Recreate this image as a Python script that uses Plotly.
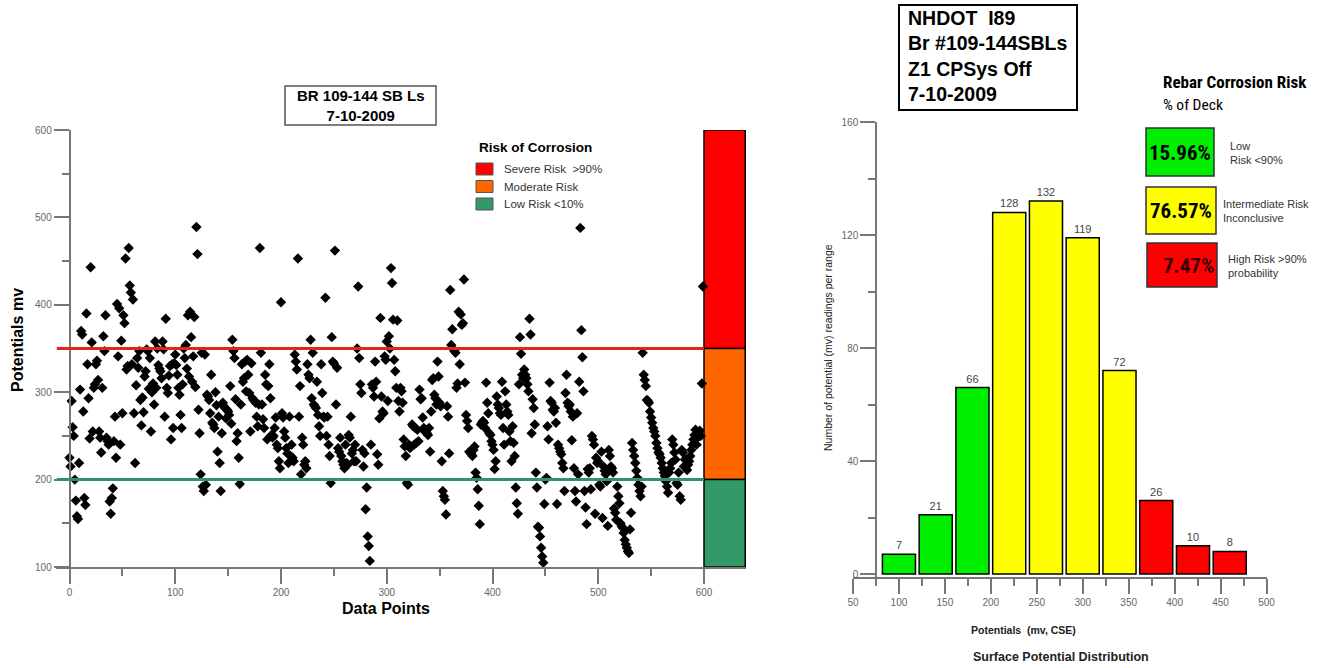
import plotly.graph_objects as go

W, H = 1325, 668

# half-cell potentials (mv) in data-point order
potentials = [
    225, 215, 290, 260, 250, 200, 176, 158, 155, 219,
    303, 370, 366, 278, 179, 171, 390, 332, 293, 247,
    443, 357, 255, 305, 309, 332, 336, 314, 255, 248,
    231, 305, 364, 347, 388, 248, 244, 240, 175, 161,
    179, 190, 244, 272, 225, 401, 341, 396, 240, 359,
    276, 388, 379, 453, 326, 330, 465, 422, 414, 332,
    406, 276, 219, 308, 339, 328, 347, 291, 262, 294,
    277, 318, 324, 349, 347, 304, 339, 255, 300, 310,
    286, 358, 305, 350, 331, 327, 324, 316, 358, 349,
    272, 384, 305, 299, 319, 330, 246, 332, 259, 333,
    343, 331, 320, 305, 297, 274, 259, 309, 350, 339,
    354, 327, 388, 318, 392, 363, 312, 341, 386, 306,
    489, 458, 280, 253, 206, 345, 192, 187, 343, 194,
    297, 295, 291, 276, 320, 265, 263, 259, 300, 285,
    232, 272, 219, 187, 253, 288, 284, 282, 270, 280,
    278, 274, 307, 264, 360, 347, 339, 292, 244, 253,
    225, 195, 286, 332, 312, 316, 335, 301, 337, 320,
    299, 255, 333, 293, 291, 290, 288, 272, 261, 286,
    465, 345, 286, 269, 259, 320, 309, 246, 307, 332,
    293, 251, 248, 250, 259, 271, 240, 236, 221, 213,
    403, 276, 271, 255, 248, 236, 230, 219, 272, 227,
    240, 225, 221, 343, 335, 326, 453, 272, 307, 206,
    248, 240, 217, 221, 213, 332, 320, 316, 360, 293,
    345, 286, 284, 282, 312, 274, 261, 250, 332, 299,
    272, 271, 408, 250, 272, 240, 227, 196, 363, 335,
    333, 462, 286, 328, 236, 232, 248, 227, 221, 217,
    213, 240, 219, 217, 251, 248, 272, 230, 234, 221,
    240, 221, 350, 421, 339, 309, 299, 234, 215, 230,
    166, 191, 135, 124, 107, 240, 309, 305, 295, 335,
    312, 229, 217, 270, 385, 295, 278, 276, 341, 337,
    358, 290, 364, 350, 442, 425, 383, 337, 324, 305,
    382, 290, 278, 305, 301, 288, 246, 238, 227, 196,
    194, 240, 236, 238, 263, 261, 240, 259, 242, 257,
    244, 303, 292, 293, 271, 259, 255, 257, 253, 251,
    259, 232, 278, 314, 316, 297, 293, 286, 335, 318,
    288, 284, 221, 187, 181, 177, 160, 284, 272, 230,
    417, 354, 372, 349, 347, 345, 305, 310, 392, 332,
    389, 377, 379, 429, 311, 274, 267, 259, 232, 231,
    229, 227, 234, 238, 208, 202, 189, 170, 149, 263,
    265, 267, 265, 259, 311, 288, 276, 253, 251, 244,
    240, 234, 212, 221, 295, 286, 282, 276, 274, 312,
    259, 240, 301, 286, 278, 274, 255, 244, 221, 261,
    242, 227, 191, 173, 161, 309, 363, 344, 320, 316,
    326, 320, 316, 309, 301, 384, 366, 253, 292, 282,
    263, 208, 191, 146, 145, 135, 122, 112, 105, 172,
    200, 202, 261, 246, 311, 290, 288, 280, 278, 282,
    265, 172, 240, 236, 232, 229, 219, 213, 187, 299,
    320, 288, 284, 286, 278, 245, 272, 213, 187, 175,
    276, 206, 312, 488, 371, 340, 301, 187, 168, 149,
    212, 208, 213, 189, 250, 246, 240, 161, 225, 219,
    221, 194, 192, 232, 156, 215, 210, 206, 198, 147,
    234, 227, 215, 213, 208, 167, 162, 154, 192, 181,
    173, 150, 147, 145, 139, 131, 126, 122, 118, 116,
    143, 162, 242, 234, 227, 219, 210, 202, 194, 187,
    181, 192, 345, 320, 314, 307, 291, 290, 288, 278,
    271, 265, 259, 255, 250, 242, 236, 231, 229, 225,
    219, 213, 208, 204, 198, 192, 185, 208, 213, 219,
    246, 240, 231, 223, 196, 194, 208, 181, 177, 234,
    231, 215, 223, 217, 211, 217, 221, 227, 234, 240,
    246, 251, 257, 240, 248, 252, 256, 250, 310, 421,
]

SEVERE_MV = 350   # red threshold line
LOW_MV = 200      # green threshold line

# risk bands drawn at the right edge of the scatter (mv)
band_lo = [350, 200, 100]
band_hi = [600, 350, 200]
band_names = ["Severe Risk  >90%", "Moderate Risk", "Low Risk <10%"]

# histogram of potentials
bin_centers = [100, 140, 180, 220, 260, 300, 340, 380, 420, 460]
bin_counts = [7, 21, 66, 128, 132, 119, 72, 26, 10, 8]
bin_risk = ["low", "low", "low", "mid", "mid", "mid", "mid", "high", "high", "high"]

deck_pct = ["15.96%", "76.57%", "7.47%"]
deck_desc = [["Low", "Risk <90%"], ["Intermediate Risk", "Inconclusive"],
             ["High Risk >90%", "probability"]]

RED, ORANGE, DGREEN = "#ff0000", "#ff6600", "#339966"
RISK_COLOR = {"low": "#00ee00", "mid": "#ffff00", "high": "#ff0000"}
GRAY = "#666666"
FONT = "Liberation Sans, Arial, sans-serif"
NARROW = "Liberation Sans Narrow, Arial Narrow, Roboto Condensed, sans-serif"


def px(x):
    return x / W


def py(y):
    return 1 - y / H


fig = go.Figure()

# ---- left: potentials by data point
fig.add_trace(go.Scatter(
    x=list(range(len(potentials))), y=potentials, mode="markers",
    marker=dict(symbol="diamond", size=8, color="black"),
    xaxis="x", yaxis="y", showlegend=False, hoverinfo="skip"))

fig.add_trace(go.Bar(
    x=[619.5] * 3, base=band_lo, y=[h - l for h, l in zip(band_hi, band_lo)],
    width=39, marker=dict(color=[RED, ORANGE, DGREEN],
                          line=dict(color="black", width=1.5)),
    xaxis="x", yaxis="y", showlegend=False, hoverinfo="skip"))

# ---- right: histogram
fig.add_trace(go.Bar(
    x=bin_centers, y=bin_counts, width=36,
    marker=dict(color=[RISK_COLOR[r] for r in bin_risk],
                line=dict(color="black", width=1.5)),
    text=[str(c) for c in bin_counts], textposition="outside",
    textfont=dict(size=11, color="#444", family=FONT), cliponaxis=False,
    xaxis="x2", yaxis="y2", showlegend=False, hoverinfo="skip"))

tick_common = dict(showgrid=False, zeroline=False, showline=True, linecolor="#777",
                   linewidth=1.5, ticks="outside", tickcolor="#777", tickwidth=1.5,
                   ticklen=15, automargin=False,
                   tickfont=dict(size=10, color=GRAY, family=FONT))

fig.update_layout(
    width=W, height=H, margin=dict(l=0, r=0, t=0, b=0),
    paper_bgcolor="white", plot_bgcolor="white", barmode="overlay",
    xaxis=dict(domain=[px(55.75), px(746.3)], range=[-13, 640], anchor="y",
               tick0=0, dtick=100,
               minor=dict(dtick=50, ticklen=7, ticks="outside", tickcolor="#777"),
               **tick_common),
    yaxis=dict(domain=[py(567), py(130)], range=[100, 600], anchor="free",
               position=px(69.5), dtick=100,
               minor=dict(dtick=50, ticklen=7, ticks="outside", tickcolor="#777"),
               **tick_common),
    xaxis2=dict(domain=[px(853), px(1266.5)], range=[50, 500], anchor="y2",
                dtick=50,
                minor=dict(dtick=25, ticklen=7, ticks="outside", tickcolor="#777"),
                **tick_common),
    yaxis2=dict(domain=[py(577), py(122)], range=[-1.06, 160], anchor="free",
                position=px(876), tickvals=[0, 40, 80, 120, 160],
                minor=dict(tickvals=[20, 60, 100, 140], ticklen=7, ticks="outside",
                           tickcolor="#777"),
                **tick_common),
)

shapes = []
ann = []

for val, col in [(SEVERE_MV, "#e3231e"), (LOW_MV, "#2f9463")]:
    shapes.append(dict(type="line", xref="x", yref="y", x0=-12, x1=600, y0=val, y1=val,
                       line=dict(color=col, width=3)))


def text(x, y, s, size, xanchor="center", yanchor="middle", color="black",
         family=FONT, angle=0, align="center"):
    ann.append(dict(xref="paper", yref="paper", x=px(x), y=py(y), text=s,
                    showarrow=False, xanchor=xanchor, yanchor=yanchor, align=align,
                    textangle=angle, font=dict(size=size, color=color, family=family)))


def box(x0, y0, x1, y1, fill="white", line="black", lw=1.5):
    shapes.append(dict(type="rect", xref="paper", yref="paper", x0=px(x0), x1=px(x1),
                       y0=py(y1), y1=py(y0), fillcolor=fill,
                       line=dict(color=line, width=lw)))


# left title box
box(285, 86, 436, 125, line="#555")
text(360.5, 105.5, "<b>BR 109-144 SB Ls<br>7-10-2009</b>", 15)

# left legend
text(477, 148, "<b>Risk of Corrosion</b>", 13.5, xanchor="left")
for i, (name, col) in enumerate(zip(band_names, [RED, ORANGE, DGREEN])):
    yc = 169 + i * 17.5
    box(476, yc - 6, 493, yc + 6, fill=col, line="#555", lw=1)
    text(502, yc, name, 11.5, xanchor="left", color="#333")

# left axis titles
text(17, 340, "<b>Potentials mv</b>", 16, angle=-90)
text(386, 608, "<b>Data Points</b>", 16)

# right title box
box(899, 5, 1077, 110, lw=2)
text(906, 56, "<b>NHDOT  I89<br>Br #109-144SBLs<br>Z1 CPSys Off<br>7-10-2009</b>",
     19.5, xanchor="left", align="left")

# right legend
text(1161, 82, "<b>Rebar Corrosion Risk</b>", 17, xanchor="left", family=NARROW)
text(1161, 105, "% of Deck", 15.5, xanchor="left", family=NARROW)
pct_boxes = [(1146, 128, 1214, 176), (1146, 187, 1216, 234), (1147, 243, 1217, 287)]
desc_x = [1228, 1221, 1226]
for i, risk in enumerate(["low", "mid", "high"]):
    x0, y0, x1, y1 = pct_boxes[i]
    box(x0, y0, x1, y1, fill=RISK_COLOR[risk], line="#333")
    text((x0 + x1) / 2 + (6 if risk == "high" else 0), (y0 + y1) / 2 + 1,
         "<b>" + deck_pct[i] + "</b>", 21,
         color="#3a0000" if risk == "high" else "black", family=NARROW)
    text(desc_x[i], (y0 + y1) / 2 + 1, "<br>".join(deck_desc[i]), 11,
         xanchor="left", align="left", color="#333")

# right axis titles
text(828, 348, "Number of potential (mv) readings per range", 10.5, angle=-90, color="#222")
text(1023, 630, "<b>Potentials  (mv, CSE)</b>", 10.5, color="#222")
text(1061, 657, "<b>Surface Potential Distribution</b>", 12.5, color="#222")

fig.update_layout(shapes=shapes, annotations=ann)
fig.write_html("out.html", config={"displayModeBar": False},
               post_script="document.body.style.margin='0';"
                           "document.body.style.overflow='hidden';")
